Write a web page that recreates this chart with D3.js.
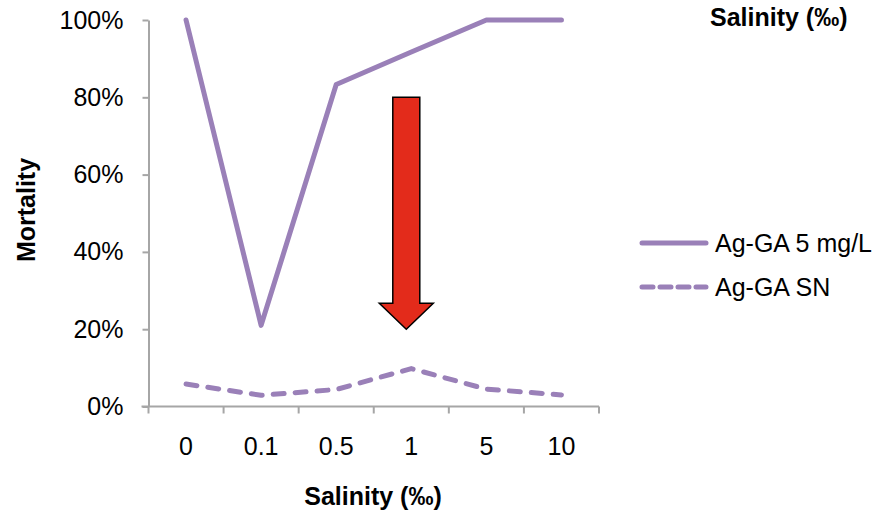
<!DOCTYPE html>
<html>
<head>
<meta charset="utf-8">
<script src="https://cdn.jsdelivr.net/npm/d3@7"></script>
<style>
  html, body { margin: 0; padding: 0; background: #fff; }
  svg { display: block; font-family: "Liberation Sans", Arial, sans-serif; }
</style>
</head>
<body>
<svg id="chart" width="878" height="514"></svg>
<script>
// ---- data ----
const categories = ["0", "0.1", "0.5", "1", "5", "10"];
const agGA5 = [100, 21, 83.3, 91.7, 100, 100];
const agGASN = [5.8, 2.9, 4.4, 9.8, 4.5, 3.0];
const yTicks = [0, 20, 40, 60, 80, 100];
const seriesNames = ["Ag-GA 5 mg/L", "Ag-GA SN"];
const arrowCategory = "1";
const arrowFrom = 80;
const arrowTo = 20;

// ---- setup ----
const svg = d3.select("#chart");
const purple = "#9a80b8";
const axisColor = "#a6a6a6";
const fs = 25;

const x = d3.scaleBand().domain(categories).range([148.5, 599]).padding(0);
const y = d3.scaleLinear().domain([0, 100]).range([406.5, 20]);
const cx = d => x(d) + x.bandwidth() / 2;

// y axis
const yAxis = svg.append("g")
  .attr("transform", "translate(148.5,0)")
  .call(d3.axisLeft(y).tickValues(yTicks).tickFormat(d => d + "%")
        .tickSizeInner(6).tickSizeOuter(0).tickPadding(19));
yAxis.select(".domain").attr("stroke", axisColor).attr("stroke-width", 2);
yAxis.selectAll(".tick line").attr("stroke", axisColor).attr("stroke-width", 2);
yAxis.selectAll(".tick text").attr("font-size", fs).attr("fill", "#000")
  .attr("font-family", "Liberation Sans, Arial, sans-serif");

// x axis line + boundary ticks
const xAxisG = svg.append("g");
xAxisG.append("line")
  .attr("x1", x.range()[0] - 7).attr("x2", x.range()[1])
  .attr("y1", y(0)).attr("y2", y(0))
  .attr("stroke", axisColor).attr("stroke-width", 2);
const bounds = categories.map(c => x(c)).concat([x(categories[categories.length - 1]) + x.bandwidth()]);
xAxisG.selectAll("line.tk").data(bounds).join("line")
  .attr("class", "tk")
  .attr("x1", d => d).attr("x2", d => d)
  .attr("y1", y(0)).attr("y2", y(0) + 7)
  .attr("stroke", axisColor).attr("stroke-width", 2);
xAxisG.selectAll("text").data(categories).join("text")
  .attr("x", d => cx(d)).attr("y", 455)
  .attr("text-anchor", "middle").attr("font-size", fs).attr("fill", "#000")
  .text(d => d);

// axis titles
svg.append("text")
  .attr("x", 373).attr("y", 505)
  .attr("text-anchor", "middle").attr("font-size", fs).attr("font-weight", "bold")
  .text("Salinity (‰)");
svg.append("text")
  .attr("transform", "translate(35,210) rotate(-90)")
  .attr("text-anchor", "middle").attr("font-size", fs).attr("font-weight", "bold")
  .text("Mortality");
svg.append("text")
  .attr("x", 710).attr("y", 26)
  .attr("font-size", fs).attr("font-weight", "bold")
  .text("Salinity (‰)");

// lines
const line = d3.line().x((d, i) => cx(categories[i])).y(d => y(d));
svg.append("path").datum(agGA5)
  .attr("d", line).attr("fill", "none")
  .attr("stroke", purple).attr("stroke-width", 5)
  .attr("stroke-linejoin", "round").attr("stroke-linecap", "round");
svg.append("path").datum(agGASN)
  .attr("d", line).attr("fill", "none")
  .attr("stroke", purple).attr("stroke-width", 5)
  .attr("stroke-dasharray", "11,11")
  .attr("stroke-linejoin", "round").attr("stroke-linecap", "round");

// arrow annotation
const ax = cx(arrowCategory) - 5;
const yTop = y(arrowFrom), yTip = y(arrowTo);
const headLen = 26, bodyHalf = 13.5, headHalf = 27;
const arrowPath = d3.path();
arrowPath.moveTo(ax - bodyHalf, yTop);
arrowPath.lineTo(ax + bodyHalf, yTop);
arrowPath.lineTo(ax + bodyHalf, yTip - headLen);
arrowPath.lineTo(ax + headHalf, yTip - headLen);
arrowPath.lineTo(ax, yTip);
arrowPath.lineTo(ax - headHalf, yTip - headLen);
arrowPath.lineTo(ax - bodyHalf, yTip - headLen);
arrowPath.closePath();
svg.append("path").attr("d", arrowPath.toString())
  .attr("fill", "#e32b1b").attr("stroke", "#000").attr("stroke-width", 1.5)
  .attr("stroke-linejoin", "miter");

// legend
const legend = svg.append("g");
const legendY = [243, 287];
seriesNames.forEach((name, i) => {
  legend.append("line")
    .attr("x1", 642).attr("x2", 706)
    .attr("y1", legendY[i]).attr("y2", legendY[i])
    .attr("stroke", purple).attr("stroke-width", 5)
    .attr("stroke-linecap", "round")
    .attr("stroke-dasharray", i === 1 ? "11,7" : null);
  legend.append("text")
    .attr("x", 715).attr("y", legendY[i] + 9)
    .attr("font-size", fs).attr("fill", "#000")
    .text(name);
});
</script>
</body>
</html>
